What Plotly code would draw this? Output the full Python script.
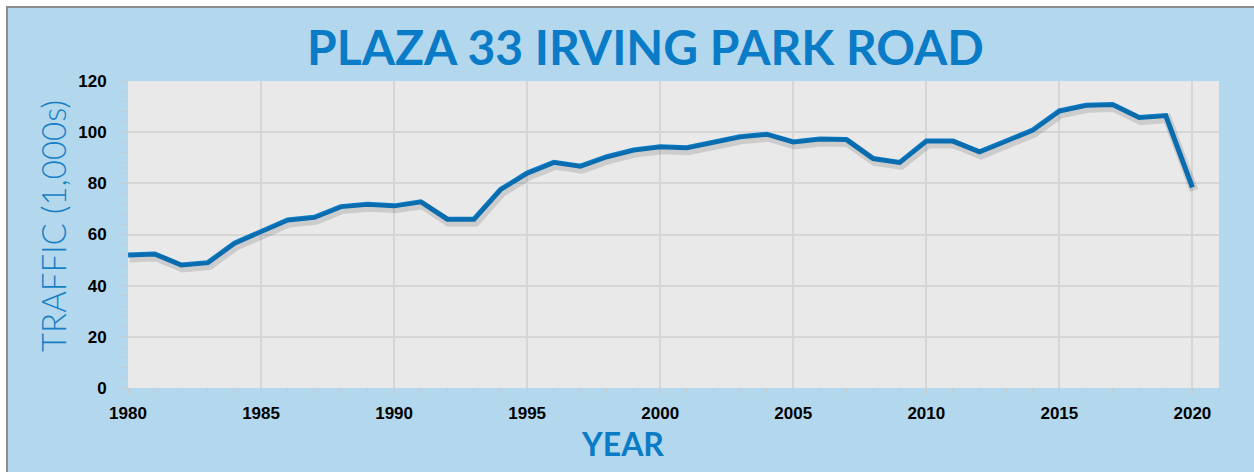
import plotly.graph_objects as go

# Annual traffic counts at Plaza 33 (Irving Park Road), in thousands
years = list(range(1980, 2021))
traffic = [52.0, 52.4, 48.1, 49.0, 56.6, 61.1, 65.7, 66.7, 70.9, 71.8,
           71.2, 72.8, 66.0, 66.0, 77.6, 84.0, 88.2, 86.7, 90.4, 93.0,
           94.3, 93.9, 96.2, 98.2, 99.2, 96.2, 97.3, 97.1, 89.7, 88.2,
           96.5, 96.5, 92.3, 96.6, 100.8, 108.3, 110.5, 110.8, 105.7, 106.5,
           78.4]

x_ticks = [1980, 1985, 1990, 1995, 2000, 2005, 2010, 2015, 2020]
y_ticks = [0, 20, 40, 60, 80, 100, 120]

title_text = "PLAZA 33 IRVING PARK ROAD"
x_title = "YEAR"
y_title = "TRAFFIC (1,000s)"

BLUE = "#0a7bc6"
PANEL = "#b3d7ec"
PLOT_BG = "#e9e9e9"
GRID = "#d6d6d6"

W, H = 1254, 472
L, R, T, B = 128, 35, 81, 84
pw, ph = W - L - R, H - T - B


def px_to_paper_x(px):
    return (px - L) / pw


def px_to_paper_y(py):
    return (H - B - py) / ph


fig = go.Figure()

# soft drop shadow under the line (same data on slightly shifted axes)
shift_y = 3 * 120 / ph
shift_x = 1.5 * 41 / pw
fig.add_trace(go.Scatter(
    x=years, y=traffic, mode="lines", xaxis="x2", yaxis="y2",
    line=dict(color="rgba(0,0,0,0.12)", width=9),
    hoverinfo="skip", showlegend=False))

fig.add_trace(go.Scatter(
    x=years, y=traffic, mode="lines",
    line=dict(color=BLUE, width=5),
    showlegend=False))

shapes = [
    # outer panel with grey frame on top/left
    dict(type="rect", xref="paper", yref="paper", layer="below",
         x0=px_to_paper_x(7), x1=px_to_paper_x(W + 10),
         y0=px_to_paper_y(H + 10), y1=px_to_paper_y(7),
         fillcolor=PANEL, line=dict(color="#8c8c8c", width=2)),
    # plotting area background
    dict(type="rect", xref="paper", yref="paper", layer="below",
         x0=0, x1=1, y0=0, y1=1, fillcolor=PLOT_BG, line=dict(width=0)),
]

annotations = [
    dict(text=f"<b>{title_text}</b>", xref="paper", yref="paper",
         x=px_to_paper_x(645), y=px_to_paper_y(47), showarrow=False,
         xanchor="center", yanchor="middle",
         font=dict(family="Lato", size=48, color=BLUE)),
    dict(text=f"<b>{x_title}</b>", xref="paper", yref="paper",
         x=px_to_paper_x(622), y=px_to_paper_y(443), showarrow=False,
         xanchor="center", yanchor="middle",
         font=dict(family="Lato", size=32, color=BLUE)),
    dict(text=y_title, xref="paper", yref="paper", textangle=-90,
         x=px_to_paper_x(53), y=px_to_paper_y(226), showarrow=False,
         xanchor="center", yanchor="middle",
         font=dict(family="Lato", size=33, color="#167fc6", weight=300)),
]

tick_font = dict(family="Liberation Sans", size=17, color="black", weight="bold")

fig.update_layout(
    width=W, height=H,
    margin=dict(l=L, r=R, t=T, b=B, pad=0),
    paper_bgcolor="white",
    plot_bgcolor="rgba(0,0,0,0)",
    shapes=shapes,
    annotations=annotations,
    xaxis=dict(
        range=[1980, 2021], tickvals=x_ticks, ticktext=[str(v) for v in x_ticks],
        showgrid=True, gridcolor=GRID, gridwidth=2,
        ticks="outside", ticklen=5, tickcolor="#c8c8c8", tickwidth=1,
        minor=dict(dtick=1, ticks="outside", ticklen=4, tickcolor="#c8c8c8", showgrid=False),
        tickfont=tick_font, ticklabelstandoff=5,
        showline=False, zeroline=False, fixedrange=True,
    ),
    yaxis=dict(
        range=[0, 120], tickvals=y_ticks,
        showgrid=True, gridcolor=GRID, gridwidth=2,
        ticks="outside", ticklen=5, tickcolor="#c8c8c8", tickwidth=1,
        minor=dict(dtick=4, ticks="outside", ticklen=4, tickcolor="#c8c8c8", showgrid=False),
        tickfont=tick_font, ticklabelstandoff=12,
        showline=False, zeroline=False, fixedrange=True,
    ),
    xaxis2=dict(
        range=[1980 - shift_x, 2021 - shift_x], overlaying="x", visible=False,
        fixedrange=True,
    ),
    yaxis2=dict(
        range=[0 + shift_y, 120 + shift_y], overlaying="y", visible=False,
        fixedrange=True,
    ),
)

fig.write_html("out.html")
